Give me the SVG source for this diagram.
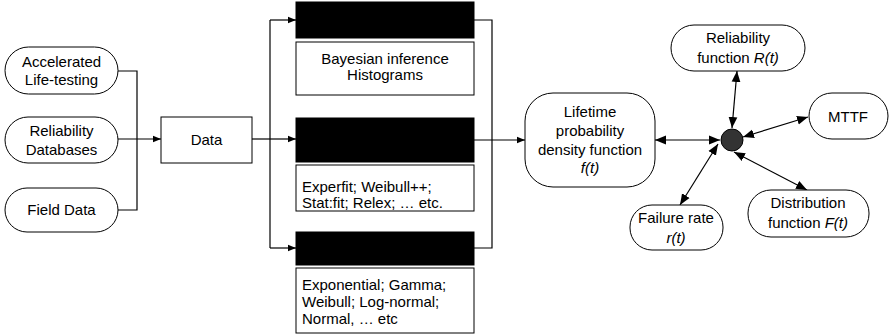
<svg xmlns="http://www.w3.org/2000/svg" width="890" height="336" viewBox="0 0 890 336">
<style>
text{font-family:"Liberation Sans",Arial,sans-serif;font-size:15px;fill:#000}
.c{text-anchor:middle}
.n{fill:#fff;stroke:#000;stroke-width:1}
.bar{fill:#000;stroke:#000}
.l{fill:none;stroke:#000;stroke-width:1.2}
.i{font-style:italic}
</style>
<defs>
<marker id="a" viewBox="0 0 10 10" refX="10" refY="5" markerWidth="8" markerHeight="8" markerUnits="userSpaceOnUse" orient="auto-start-reverse"><path d="M0,1 L10,5 L0,9 Z" fill="#000"/></marker>
<marker id="b" viewBox="0 0 10 10" refX="10" refY="5" markerWidth="11" markerHeight="11" markerUnits="userSpaceOnUse" orient="auto-start-reverse"><path d="M0,1 L10,5 L0,9 Z" fill="#000"/></marker>
</defs>
<g id="connectors">
<path class="l" d="M118,71 H137 V210 H118"/>
<path class="l" d="M118,139 H161" marker-end="url(#a)"/>
<path class="l" d="M252,139 H270"/>
<path class="l" d="M270,20 V248"/>
<path class="l" d="M270,20 H296" marker-end="url(#a)"/>
<path class="l" d="M270,139 H296" marker-end="url(#a)"/>
<path class="l" d="M270,248 H296" marker-end="url(#a)"/>
<path class="l" d="M474,20 H492 V248 H474"/>
<path class="l" d="M474,140 H525" marker-end="url(#a)"/>
<path class="l" d="M720,140 H655" marker-start="url(#b)" marker-end="url(#b)"/>
<path class="l" d="M732,128 L737,71" marker-start="url(#b)" marker-end="url(#b)"/>
<path class="l" d="M743,137 L808,117" marker-start="url(#b)" marker-end="url(#b)"/>
<path class="l" d="M734,152 L807,190" marker-start="url(#b)" marker-end="url(#b)"/>
<path class="l" d="M718,144 L680,205" marker-start="url(#b)" marker-end="url(#b)"/>
</g>
<g id="accelerated">
<rect class="n" x="5" y="47" width="113" height="47" rx="23.5"/>
<text class="c" x="61.5" y="67">Accelerated</text>
<text class="c" x="61.5" y="85">Life-testing</text>
</g>
<g id="reliability-db">
<rect class="n" x="5" y="117" width="113" height="46" rx="23"/>
<text class="c" x="61.5" y="136">Reliability</text>
<text class="c" x="61.5" y="155">Databases</text>
</g>
<g id="field-data">
<rect class="n" x="5" y="188" width="113" height="44" rx="22"/>
<text class="c" x="61.5" y="215">Field Data</text>
</g>
<g id="data">
<rect class="n" x="161" y="117" width="91" height="46"/>
<text class="c" x="206.5" y="145">Data</text>
</g>
<g id="group1">
<rect class="bar" x="296" y="2" width="178" height="36"/>
<rect class="n" x="296" y="42" width="178" height="53"/>
<text class="c" x="385" y="64">Bayesian inference</text>
<text class="c" x="385" y="80">Histograms</text>
</g>
<g id="group2">
<rect class="bar" x="296" y="118" width="178" height="44"/>
<rect class="n" x="296" y="165" width="178" height="46"/>
<text x="302" y="192">Experfit; Weibull++;</text>
<text x="302" y="208">Stat:fit; Relex; … etc.</text>
</g>
<g id="group3">
<rect class="bar" x="296" y="232" width="178" height="33"/>
<rect class="n" x="296" y="268" width="178" height="65"/>
<text x="302" y="290">Exponential; Gamma;</text>
<text x="302" y="307">Weibull; Log-normal;</text>
<text x="302" y="324">Normal, … etc</text>
</g>
<g id="lifetime">
<rect class="n" x="525" y="93" width="130" height="94" rx="28"/>
<text class="c" x="590" y="117">Lifetime</text>
<text class="c" x="590" y="136">probability</text>
<text class="c" x="590" y="155">density function</text>
<text class="c i" x="590" y="173">f(t)</text>
</g>
<g id="hub">
<circle cx="732" cy="140" r="11" fill="#333" stroke="#000"/>
</g>
<g id="reliability-fn">
<rect class="n" x="671" y="25" width="134" height="46" rx="23"/>
<text class="c" x="738" y="43">Reliability</text>
<text class="c" x="738" y="63">function <tspan class="i">R(t)</tspan></text>
</g>
<g id="mttf">
<rect class="n" x="809" y="93" width="79" height="46" rx="23"/>
<text class="c" x="848" y="122">MTTF</text>
</g>
<g id="distribution">
<rect class="n" x="748" y="190" width="121" height="47" rx="23"/>
<text class="c" x="808" y="208">Distribution</text>
<text class="c" x="808" y="228">function <tspan class="i">F(t)</tspan></text>
</g>
<g id="failure-rate">
<rect class="n" x="630" y="205" width="93" height="45" rx="22"/>
<text class="c" x="676" y="223">Failure rate</text>
<text class="c i" x="676" y="243">r(t)</text>
</g>
</svg>
